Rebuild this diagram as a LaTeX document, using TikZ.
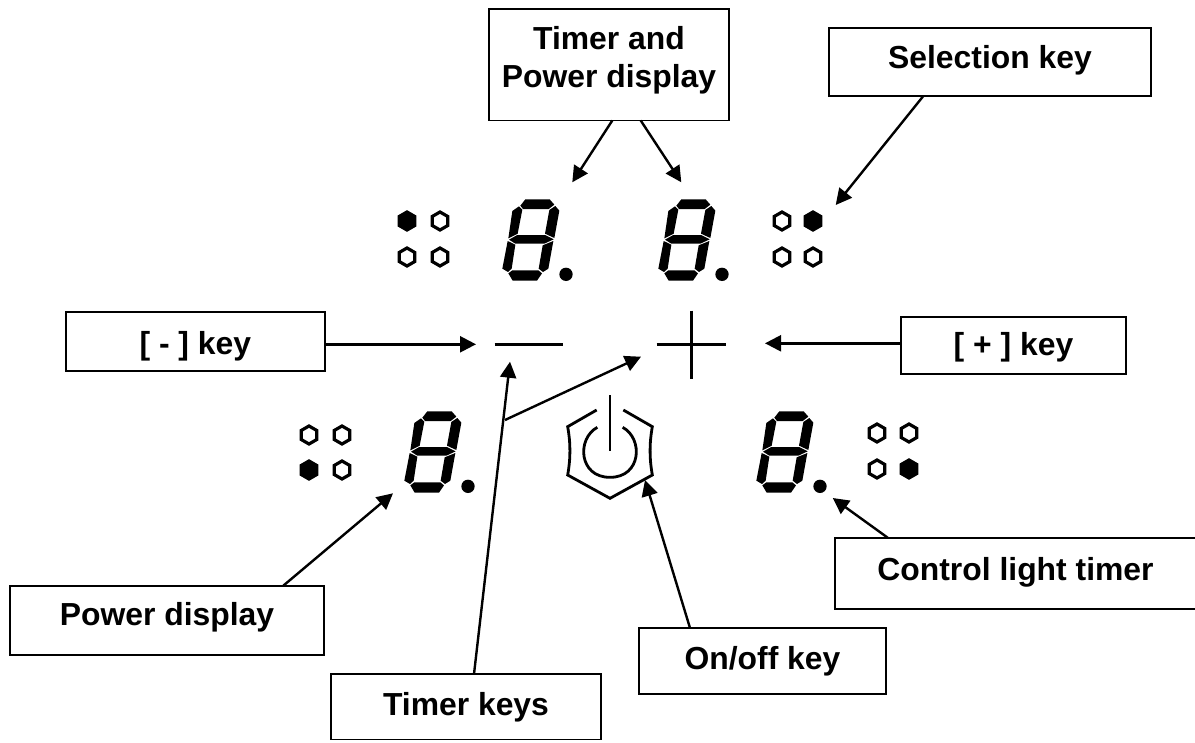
\documentclass[tikz,border=0pt]{standalone}
\usepackage{fontspec}
\setmainfont{Liberation Sans}
\usetikzlibrary{arrows.meta}
\newcommand{\bl}[2]{\raisebox{#1}[0pt][0pt]{#2}}
\tikzset{
  x=0.75pt,y=-0.75pt,
  box/.style={draw=black,line width=1.4pt,fill=white,inner sep=0pt,outer sep=0pt,align=center,font=\bfseries\fontsize{23.9}{28.5}\selectfont},
  arr/.style={line width=1.8pt,-{Triangle[length=12pt,width=12pt]}},
  ink/.style={line width=2.5pt,black},
  icon/.style={line width=2.1pt,black},
  seg/.style={fill=black,draw=none},
  hexon/.style={fill=black,draw=black,line width=2.4pt,line join=miter},
  hexoff/.style={draw=black,line width=2.4pt,line join=miter,fill=white},
}
\newcommand{\hexat}[3]{\draw[#3] (#1,#2-9) -- ++(7.8,4.5) -- ++(0,9) -- ++(-7.8,4.5) -- ++(-7.8,-4.5) -- ++(0,-9) -- cycle;}
\newcommand{\digitat}[2]{%
  \begin{scope}[shift={(#1,#2)},x=0.25pt,y=-0.25pt]
    \fill[seg] (421,47)--(436,28)--(509,28)--(523,44)--(506,57)--(429,57)--cycle;
    \fill[seg] (417,49)--(427,59)--(413,131)--(385,145)--(397,63)--cycle;
    \fill[seg] (526,48)--(538,62)--(523,144)--(495,131)--(508,60)--cycle;
    \fill[seg] (387,149)--(412,135)--(495,135)--(521,148)--(493,161)--(406,161)--cycle;
    \fill[seg] (383,153)--(406,164)--(395,236)--(384,246)--(367,236)--cycle;
    \fill[seg] (520,153)--(505,236)--(489,246)--(476,236)--(488,166)--cycle;
    \fill[seg] (385,250)--(397,241)--(475,241)--(486,250)--(471,272)--(398,272)--cycle;
    \fill[black] (558,253) circle [radius=20];
  \end{scope}}
\begin{document}
\begin{tikzpicture}
\useasboundingbox (0,0) rectangle (1195,742);
% digits
\digitat{380}{190}
\digitat{536}{190}
\digitat{282}{402}
\digitat{634}{402}
% indicator clusters
\hexat{407}{221}{hexon}\hexat{440}{221}{hexoff}\hexat{407}{257}{hexoff}\hexat{440}{257}{hexoff}
\hexat{782}{221}{hexoff}\hexat{813}{221}{hexon}\hexat{782}{257}{hexoff}\hexat{813}{257}{hexoff}
\hexat{309}{435}{hexoff}\hexat{342}{435}{hexoff}\hexat{309}{470}{hexon}\hexat{342}{470}{hexoff}
\hexat{877}{433}{hexoff}\hexat{909}{433}{hexoff}\hexat{877}{469}{hexoff}\hexat{909}{469}{hexon}
% minus and plus
\draw[ink] (494.5,344.5) -- (563,344.5);
\draw[ink] (656.7,344.3) -- (725.7,344.3);
\draw[ink] (691.3,310.7) -- (691.3,379.3);
% power icon
\begin{scope}[shift={(480,320)},x=0.25pt,y=-0.25pt]
  \draw[icon] (350,270) -- (263,320) .. controls (272,370) and (272,415) .. (263,465) -- (390,535) -- (517,465) .. controls (508,415) and (508,370) .. (517,320) -- (430,270);
  \draw[icon] (390,225) -- (390,393);
  \draw[icon] (352,322) .. controls (290,355) and (295,472) .. (390,472) .. controls (485,472) and (490,355) .. (428,322);
\end{scope}
% boxes
\node[box,minimum width=180pt,minimum height=83.6pt] (timer) at (609,64.75) {\bl{-2.6pt}{Timer and}\\\bl{-2.6pt}{Power display}};
\node[box,minimum width=241.5pt,minimum height=50.8pt] (sel) at (990,62.2) {\bl{-5.1pt}{Selection key}};
\node[box,minimum width=194.5pt,minimum height=44.5pt] (minus) at (195.35,341.35) {\bl{-9.5pt}{[ - ] key}};
\node[box,minimum width=168.75pt,minimum height=43.2pt] (plus) at (1013.5,345.5) {\bl{-7.65pt}{[ + ] key}};
\node[box,minimum width=236pt,minimum height=52pt] (pow) at (167,620.35) {\bl{-4.2pt}{Power display}};
\node[box,minimum width=202.5pt,minimum height=49.1pt] (tk) at (466,706.75) {\bl{-6.2pt}{Timer keys}};
\node[box,minimum width=185.25pt,minimum height=49.5pt] (onoff) at (762.5,661) {\bl{-6pt}{On/off key}};
\node[box,minimum width=270.75pt,minimum height=53.7pt] (ctl) at (1015.5,573.5) {\bl{-4.9pt}{Control light timer}};
% connector ends
\coordinate (t1) at (572.3,182.3);
\coordinate (t2) at (681.3,182.3);
\coordinate (t3) at (835.7,205);
\coordinate (t4) at (476,344.3);
\coordinate (t5) at (765,343.3);
\coordinate (t6) at (393,493.3);
\coordinate (t7) at (510,361.7);
\coordinate (t8) at (641,356.7);
\coordinate (t9) at (645,480);
\coordinate (t10) at (832.7,498);
\coordinate (j) at (505,420);
\draw[arr] (612.3,0 |- timer.south) -- (t1);
\draw[arr] (640.7,0 |- timer.south) -- (t2);
\draw[arr] (923.3,0 |- sel.south) -- (t3);
\draw[arr] (minus.east |- t4) -- (t4);
\draw[arr] (plus.west |- t5) -- (t5);
\draw[arr] (283.3,0 |- pow.north) -- (t6);
\draw[arr] (474,0 |- tk.north) -- (t7);
\draw[arr] (j) -- (t8);
\draw[arr] (690,0 |- onoff.north) -- (t9);
\draw[arr] (887.7,0 |- ctl.north) -- (t10);
\end{tikzpicture}
\end{document}
